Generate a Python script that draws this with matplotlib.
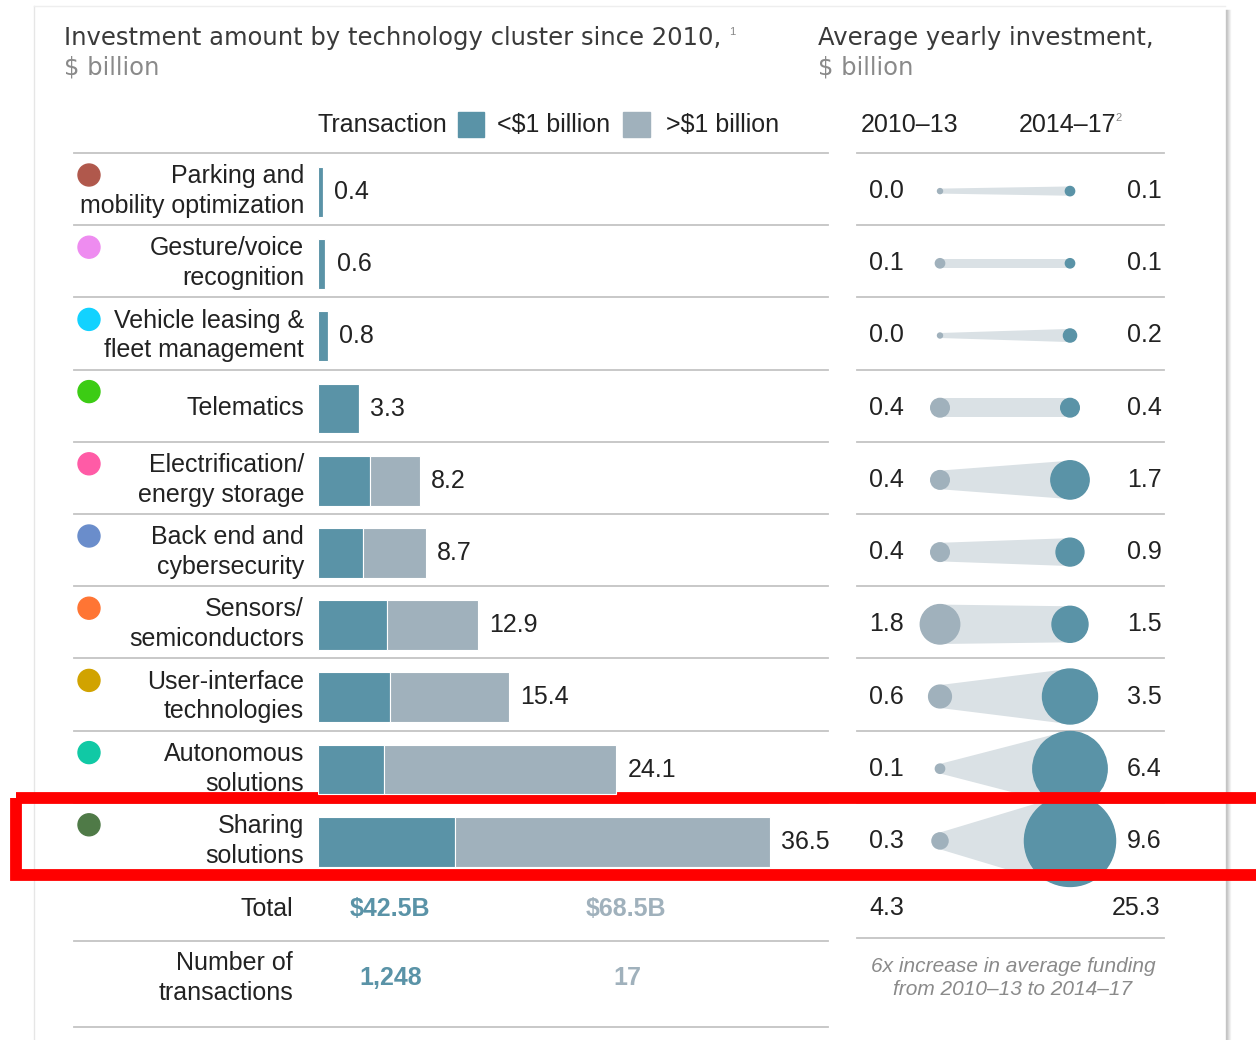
import matplotlib.pyplot as plt
from matplotlib.patches import Rectangle, Circle, Polygon
import numpy as np

# data
clusters = ["Parking and\nmobility optimization", "Gesture/voice\nrecognition",
            "Vehicle leasing &\nfleet management", "Telematics",
            "Electrification/\nenergy storage", "Back end and\ncybersecurity",
            "Sensors/\nsemiconductors", "User-interface\ntechnologies",
            "Autonomous\nsolutions", "Sharing\nsolutions"]
dot_colors = ["#b0584c", "#ee8cf0", "#12d2ff", "#3ccc14", "#ff5ba6",
              "#6a8dcb", "#ff7534", "#d1a300", "#10c9a5", "#4f7a47"]
small_deals = [0.4, 0.6, 0.8, 3.3, 4.2, 3.6, 5.6, 5.8, 5.3, 11.1]   # <$1 billion
totals = [0.4, 0.6, 0.8, 3.3, 8.2, 8.7, 12.9, 15.4, 24.1, 36.5]
large_deals = [t - s for t, s in zip(totals, small_deals)]           # >$1 billion
avg_2010_13 = [0.0, 0.1, 0.0, 0.4, 0.4, 0.4, 1.8, 0.6, 0.1, 0.3]
avg_2014_17 = [0.1, 0.1, 0.2, 0.4, 1.7, 0.9, 1.5, 3.5, 6.4, 9.6]
total_amounts = ["$42.5B", "$68.5B"]
n_transactions = ["1,248", "17"]
avg_totals = ["4.3", "25.3"]

TEAL = "#5a93a7"
GREY = "#a0b1bc"
LINK = "#dae1e5"
TXT = "#222222"
FS = 18
plt.rcParams["font.family"] = ["Liberation Sans", "DejaVu Sans"]

fig = plt.figure(figsize=(12.56, 10.4), dpi=100)
ax = fig.add_axes([0, 0, 1, 1])
ax.set_xlim(0, 1256)
ax.set_ylim(1040, 0)
ax.axis("off")

# card outline + shadow
ax.plot([34, 34], [6, 1040], color="#e6e6e6", lw=1)
ax.plot([34, 1225], [6, 6], color="#eeeeee", lw=1)
for k, a in enumerate([0.45, 0.35, 0.25, 0.15, 0.08]):
    ax.plot([1226 + k, 1226 + k], [10, 1040], color="#888888", alpha=a, lw=1)

# titles
tfont = dict(family="DejaVu Sans", fontsize=17.5, color="#3a3a3a", va="center")
ax.text(64, 38, "Investment amount by technology cluster since 2010,", **tfont)
ax.text(729, 32, "1", fontsize=8, color="#888888", va="center")
ax.text(64, 68, "$ billion", family="DejaVu Sans", fontsize=17.5, color="#8a8a8a", va="center")
ax.text(818, 38, "Average yearly investment,", **tfont)
ax.text(818, 68, "$ billion", family="DejaVu Sans", fontsize=17.5, color="#8a8a8a", va="center")

# legend
ax.text(318, 125, "Transaction", fontsize=FS, color=TXT, va="center")
ax.add_patch(Rectangle((458, 112), 26, 25, color=TEAL))
ax.text(497, 125, "<$1 billion", fontsize=FS, color=TXT, va="center")
ax.add_patch(Rectangle((623, 112), 27, 25, color=GREY))
ax.text(666, 125, ">$1 billion", fontsize=FS, color=TXT, va="center")
ax.text(861, 125, "2010\u201313", fontsize=FS, color=TXT, va="center")
ax.text(1019, 125, "2014\u201317", fontsize=FS, color=TXT, va="center")
ax.text(1115, 118, "2", fontsize=8, color="#888888", va="center")

# row grid
top, step = 153, 72.2
n = len(clusters)
for i in range(n + 1):
    y = top + step * i
    ax.plot([74, 828], [y, y], color="#c4c4c4", lw=1.3)
    ax.plot([857, 1164], [y, y], color="#c4c4c4", lw=1.3)

# row labels, dots, bubbles
k = 14.7  # px radius per sqrt($bn)
x1, x2 = 940, 1070
for i, (lab, c) in enumerate(zip(clusters, dot_colors)):
    yc = top + step * (i + 0.5) + 2
    ax.add_patch(Circle((89, top + step * i + 22), 11, color=c))
    ax.text(304, yc, lab, fontsize=FS, color=TXT, ha="right", va="center",
            multialignment="right", linespacing=1.3)

    r1 = max(k * np.sqrt(avg_2010_13[i]), 2.5)
    r2 = max(k * np.sqrt(avg_2014_17[i]), 2.5)
    d = x2 - x1
    s = (r2 - r1) / d
    nx, ny = -s, np.sqrt(1 - s * s)
    poly = [(x1 + r1 * nx, yc - r1 * ny), (x2 + r2 * nx, yc - r2 * ny),
            (x2 + r2 * nx, yc + r2 * ny), (x1 + r1 * nx, yc + r1 * ny)]
    ax.add_patch(Polygon(poly, closed=True, color=LINK, lw=0, zorder=2))
    ax.add_patch(Circle((x1, yc), r1, color=GREY, zorder=3))
    ax.add_patch(Circle((x2, yc), r2, color=TEAL, zorder=3))
    ax.text(869, yc, f"{avg_2010_13[i]:.1f}", fontsize=FS, color=TXT, va="center", zorder=4)
    ax.text(1127, yc, f"{avg_2014_17[i]:.1f}", fontsize=FS, color=TXT, va="center", zorder=4)

# bars
bx = fig.add_axes([318 / 1256, 1 - (top + step * n) / 1040, 510 / 1256, step * n / 1040])
bx.set_xlim(0, 510 / 12.38)
bx.set_ylim(n - 0.5, -0.5)
bx.axis("off")
bx.patch.set_alpha(0)
ypos = np.arange(n) + 0.04
bx.barh(ypos, small_deals, height=0.69, color=TEAL, edgecolor="white", lw=0.8)
bx.barh(ypos, large_deals, left=small_deals, height=0.69, color=GREY,
        edgecolor="white", lw=0.8)
for i, t in enumerate(totals):
    bx.text(t + 0.9, ypos[i], f"{t:.1f}", fontsize=FS, color=TXT, va="center")

# totals
ax.text(293, 909, "Total", fontsize=FS, color=TXT, ha="right", va="center")
ax.text(390, 909, total_amounts[0], fontsize=FS, color=TEAL, ha="center", va="center", weight="bold")
ax.text(626, 909, total_amounts[1], fontsize=FS, color=GREY, ha="center", va="center", weight="bold")
ax.text(869, 908, avg_totals[0], fontsize=FS, color=TXT, va="center")
ax.text(1160, 908, avg_totals[1], fontsize=FS, color=TXT, ha="right", va="center")
ax.plot([74, 828], [941, 941], color="#c4c4c4", lw=1.3)
ax.plot([857, 1164], [938, 938], color="#c4c4c4", lw=1.3)
ax.text(293, 978, "Number of\ntransactions", fontsize=FS, color=TXT, ha="right", va="center",
        multialignment="right", linespacing=1.3)
ax.text(391, 978, n_transactions[0], fontsize=FS, color=TEAL, ha="center", va="center", weight="bold")
ax.text(627, 978, n_transactions[1], fontsize=FS, color=GREY, ha="center", va="center", weight="bold")
ax.text(1013, 978, "6x increase in average funding\nfrom 2010\u201313 to 2014\u201317", fontsize=15,
        color="#8a8a8a", style="italic", ha="center", va="center", linespacing=1.3)
ax.plot([74, 828], [1027, 1027], color="#c4c4c4", lw=1.3)

# highlight box
ax.add_patch(Rectangle((16, 798), 1245, 77, fill=False, edgecolor="#ff0000", lw=8.5,
                       zorder=10, clip_on=False))

fig.savefig("out.png", dpi=100, facecolor="white")
